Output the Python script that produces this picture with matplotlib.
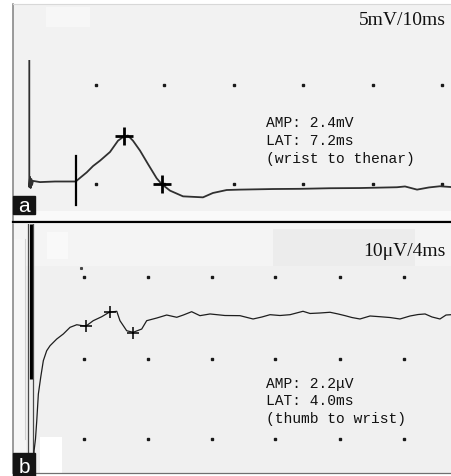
import matplotlib
matplotlib.use("Agg")
import matplotlib.pyplot as plt
from matplotlib.patches import Rectangle

W, H = 451, 477

# ---------------- data: panel a (CMAP, 5 mV/div, 10 ms/div) ----------------
a_t = [0.0, 0.0, 0.10, 0.19, 0.29, 0.39, 0.53, 1.54, 3.70, 6.68, 7.29, 8.26, 9.17,
       10.17, 11.61, 12.76, 13.63, 14.20, 14.92, 15.93, 17.08, 18.33, 19.05, 20.24,
       22.12, 24.99, 26.42, 28.40, 30.32, 35.07, 38.95, 43.27, 47.58, 52.90, 54.06,
       55.79, 57.5, 59.09, 60.7]
a_mv = [6.09, -0.28, 0.23, -0.33, 0.13, -0.18, 0.03, -0.03, 0.0, 0.0, 0.18, 0.46, 0.78,
        1.05, 1.49, 2.06, 2.28, 2.32, 2.06, 1.56, 0.88, 0.16, -0.13, -0.46,
        -0.75, -0.80, -0.58, -0.43, -0.41, -0.38, -0.37, -0.34, -0.33, -0.29, -0.25,
        -0.41, -0.30, -0.24, -0.28]
a_onset_t = 6.68
a_onset_span = [-1.19, 1.29]
a_cross_t = [13.63, 19.05]
a_cross_mv = [2.28, -0.13]
a_grid_t = [9.6, 19.4, 29.5, 39.4, 49.4, 59.4]
a_grid_mv = [4.87, -0.13]
a_scale = "5mV/10ms"
a_info = ["AMP: 2.4mV", "LAT: 7.2ms", "(wrist to thenar)"]

# ---------------- data: panel b (SNAP, 10 uV/div, 4 ms/div) ----------------
b_t = [0.16, 0.19, 0.28, 0.36, 0.46, 0.61, 0.77, 0.98, 1.19, 1.61, 2.02, 2.44, 2.86,
       3.13, 3.44, 3.89, 4.42, 4.89, 5.36, 5.56, 5.98, 6.39, 6.92, 7.23, 7.86, 8.48,
       9.11, 9.52, 10.04, 10.56, 11.19, 12.12, 13.06, 13.88, 14.44, 14.94, 15.56,
       16.19, 17.00, 17.44, 18.06, 18.69, 19.19, 19.63, 20.06, 20.56, 21.19, 21.81,
       22.44, 23.06, 23.69, 24.19, 24.63, 25.06, 25.56, 25.94, 26.25]
b_uv = [-14.2, -11.36, -9.88, -7.62, -4.32, -2.22, -0.21, 1.02, 1.64, 2.47, 3.09, 3.91, 4.23,
        4.14, 4.07, 4.73, 5.22, 5.77, 5.89, 4.73, 3.49, 3.30, 3.70, 4.73, 5.06, 5.43,
        5.15, 5.43, 5.84, 5.35, 5.56, 5.37, 5.35, 4.94, 5.19, 5.47, 5.37,
        5.47, 5.89, 5.62, 5.68, 5.77, 5.56, 5.35, 5.12, 4.94, 5.31, 5.22,
        5.12, 4.94, 5.31, 5.49, 5.56, 5.19, 4.94, 5.43, 5.47]
b_cross_t = [3.44, 4.94, 6.38]
b_cross_uv = [4.07, 5.80, 3.21]
b_grid_t = [3.3, 7.3, 11.3, 15.25, 19.3, 23.3]
b_grid_uv = [10.1, 0.0, -9.9]
b_scale = "10\u03bcV/4ms"
b_info = ["AMP: 2.2\u03bcV", "LAT: 4.0ms", "(thumb to wrist)"]

# ---------------- layout helpers (pixel geometry) ----------------
def fx(x):
    return x / W

def fy(y):
    return 1 - y / H

fig = plt.figure(figsize=(W / 100, H / 100), dpi=100)
fig.patch.set_facecolor("white")

# panel a axes: pixels x 13..451, y 5..223
axa = fig.add_axes([fx(13), fy(223), fx(451) - fx(13), fy(5) - fy(223)])
A_X0, A_PX, A_Y0, A_PY = 29.3, 6.95, 182.5, 19.8
axa.set_xlim((13 - A_X0) / A_PX, (451 - A_X0) / A_PX)
axa.set_ylim((A_Y0 - 223) / A_PY, (A_Y0 - 5) / A_PY)
axa.set_facecolor("#f2f2f2")

# panel b axes: pixels x 13..451, y 225..474
axb = fig.add_axes([fx(13), fy(474), fx(451) - fx(13), fy(225) - fy(474)])
B_X0, B_PX, B_Y0, B_PY = 31.0, 16.0, 360.0, 8.1
axb.set_xlim((13 - B_X0) / B_PX, (451 - B_X0) / B_PX)
axb.set_ylim((B_Y0 - 474) / B_PY, (B_Y0 - 225) / B_PY)
axb.set_facecolor("#f0f0f0")

for ax in (axa, axb):
    ax.set_xticks([])
    ax.set_yticks([])
    ax.spines["right"].set_visible(False)
    ax.spines["left"].set_color("#808080")
    ax.spines["left"].set_linewidth(1.1)

axa.spines["top"].set_color("#d8d8d8")
axa.spines["top"].set_linewidth(0.8)
axa.spines["bottom"].set_color("black")
axa.spines["bottom"].set_linewidth(1.6)
axb.spines["top"].set_visible(False)
axb.spines["bottom"].set_color("#707070")
axb.spines["bottom"].set_linewidth(0.9)

# background scan patches (axes-fraction coords)
def patch(ax, x0, y0, x1, y1, ytop, ybot, color):
    w = 451 - 13
    h = ybot - ytop
    ax.add_patch(Rectangle(((x0 - 13) / w, (ybot - y1) / h), (x1 - x0) / w, (y1 - y0) / h,
                           transform=ax.transAxes, color=color, zorder=0, lw=0))

patch(axa, 46, 8, 90, 28, 5, 223, "#f7f7f7")
patch(axa, 13, 212, 451, 221, 5, 223, "#fafafa")
patch(axb, 13, 225, 451, 267, 225, 474, "#f4f4f4")
patch(axb, 47, 233, 68, 260, 225, 474, "#f9f9f9")
patch(axb, 273, 230, 415, 267, 225, 474, "#ececec")
patch(axb, 40, 438, 62, 474, 225, 474, "white")
patch(axb, 13, 240, 26, 474, 225, 474, "#f6f6f6")

# ---------------- panel a marks ----------------
for v in a_grid_mv:
    axa.plot(a_grid_t, [v] * len(a_grid_t), ls="none", marker="s", ms=1.6,
             color="#1a1a1a", zorder=2)
axa.plot(a_t, a_mv, color="#303030", lw=1.3, zorder=3)
axa.plot([a_onset_t, a_onset_t], a_onset_span, color="black", lw=1.6, zorder=4)
axa.plot(a_cross_t, a_cross_mv, ls="none", marker="+", ms=13, mew=2.0,
         color="black", zorder=5)

# ---------------- panel b marks ----------------
for v in b_grid_uv:
    axb.plot(b_grid_t, [v] * len(b_grid_t), ls="none", marker="s", ms=1.5,
             color="#1a1a1a", zorder=2)
axb.plot([3.12], [11.2], ls="none", marker="s", ms=1.2, color="#444444", zorder=2)
# stimulus artifact lines
axb.plot([-0.02, -0.02], [(B_Y0 - 225) / B_PY, (B_Y0 - 380) / B_PY], color="black",
         lw=2.3, zorder=3, solid_capstyle="butt")
axb.plot([-0.17, -0.17], [(B_Y0 - 225) / B_PY, (B_Y0 - 462) / B_PY], color="#4a4a4a",
         lw=0.9, zorder=3)
axb.plot([0.125, 0.125], [(B_Y0 - 225) / B_PY, (B_Y0 - 462) / B_PY], color="#4a4a4a",
         lw=0.9, zorder=3)
axb.plot([-0.37, -0.37], [(B_Y0 - 240) / B_PY, (B_Y0 - 440) / B_PY], color="#d2d2d2",
         lw=0.8, zorder=2)
axb.plot(b_t, b_uv, color="#1e1e1e", lw=0.9, zorder=4)
axb.plot(b_cross_t, b_cross_uv, ls="none", marker="+", ms=9, mew=1.1,
         color="black", zorder=5)

# ---------------- texts ----------------
serif = ["Liberation Serif", "DejaVu Serif"]
mono = ["Liberation Mono", "DejaVu Sans Mono"]
fig.text(fx(446), fy(25), a_scale, ha="right", va="baseline", fontsize=14,
         family=serif, color="#111111")
fig.text(fx(446), fy(256), b_scale, ha="right", va="baseline", fontsize=14,
         family=serif, color="#111111")
for txt, yb in zip(a_info, [127, 145, 163]):
    fig.text(fx(266), fy(yb), txt, ha="left", va="baseline", fontsize=10.5,
             family=mono, color="#111111")
for txt, yb in zip(b_info, [388, 405.5, 423]):
    fig.text(fx(266), fy(yb), txt, ha="left", va="baseline", fontsize=10.5,
             family=mono, color="#111111")

# panel labels
fig.patches.append(Rectangle((fx(13), fy(215)), fx(35) - fx(13), fy(197) - fy(215),
                             transform=fig.transFigure, color="#141414", zorder=10))
fig.patches.append(Rectangle((fx(13), fy(477)), fx(35) - fx(13), fy(454) - fy(477),
                             transform=fig.transFigure, color="#141414", zorder=10))
fig.text(fx(24), fy(212), "a", ha="center", va="baseline", fontsize=15,
         family=["Liberation Sans", "DejaVu Sans"], color="white", zorder=11)
fig.text(fx(24), fy(473), "b", ha="center", va="baseline", fontsize=15,
         family=["Liberation Sans", "DejaVu Sans"], color="white", zorder=11)

fig.savefig("out.png", dpi=100, facecolor="white")
